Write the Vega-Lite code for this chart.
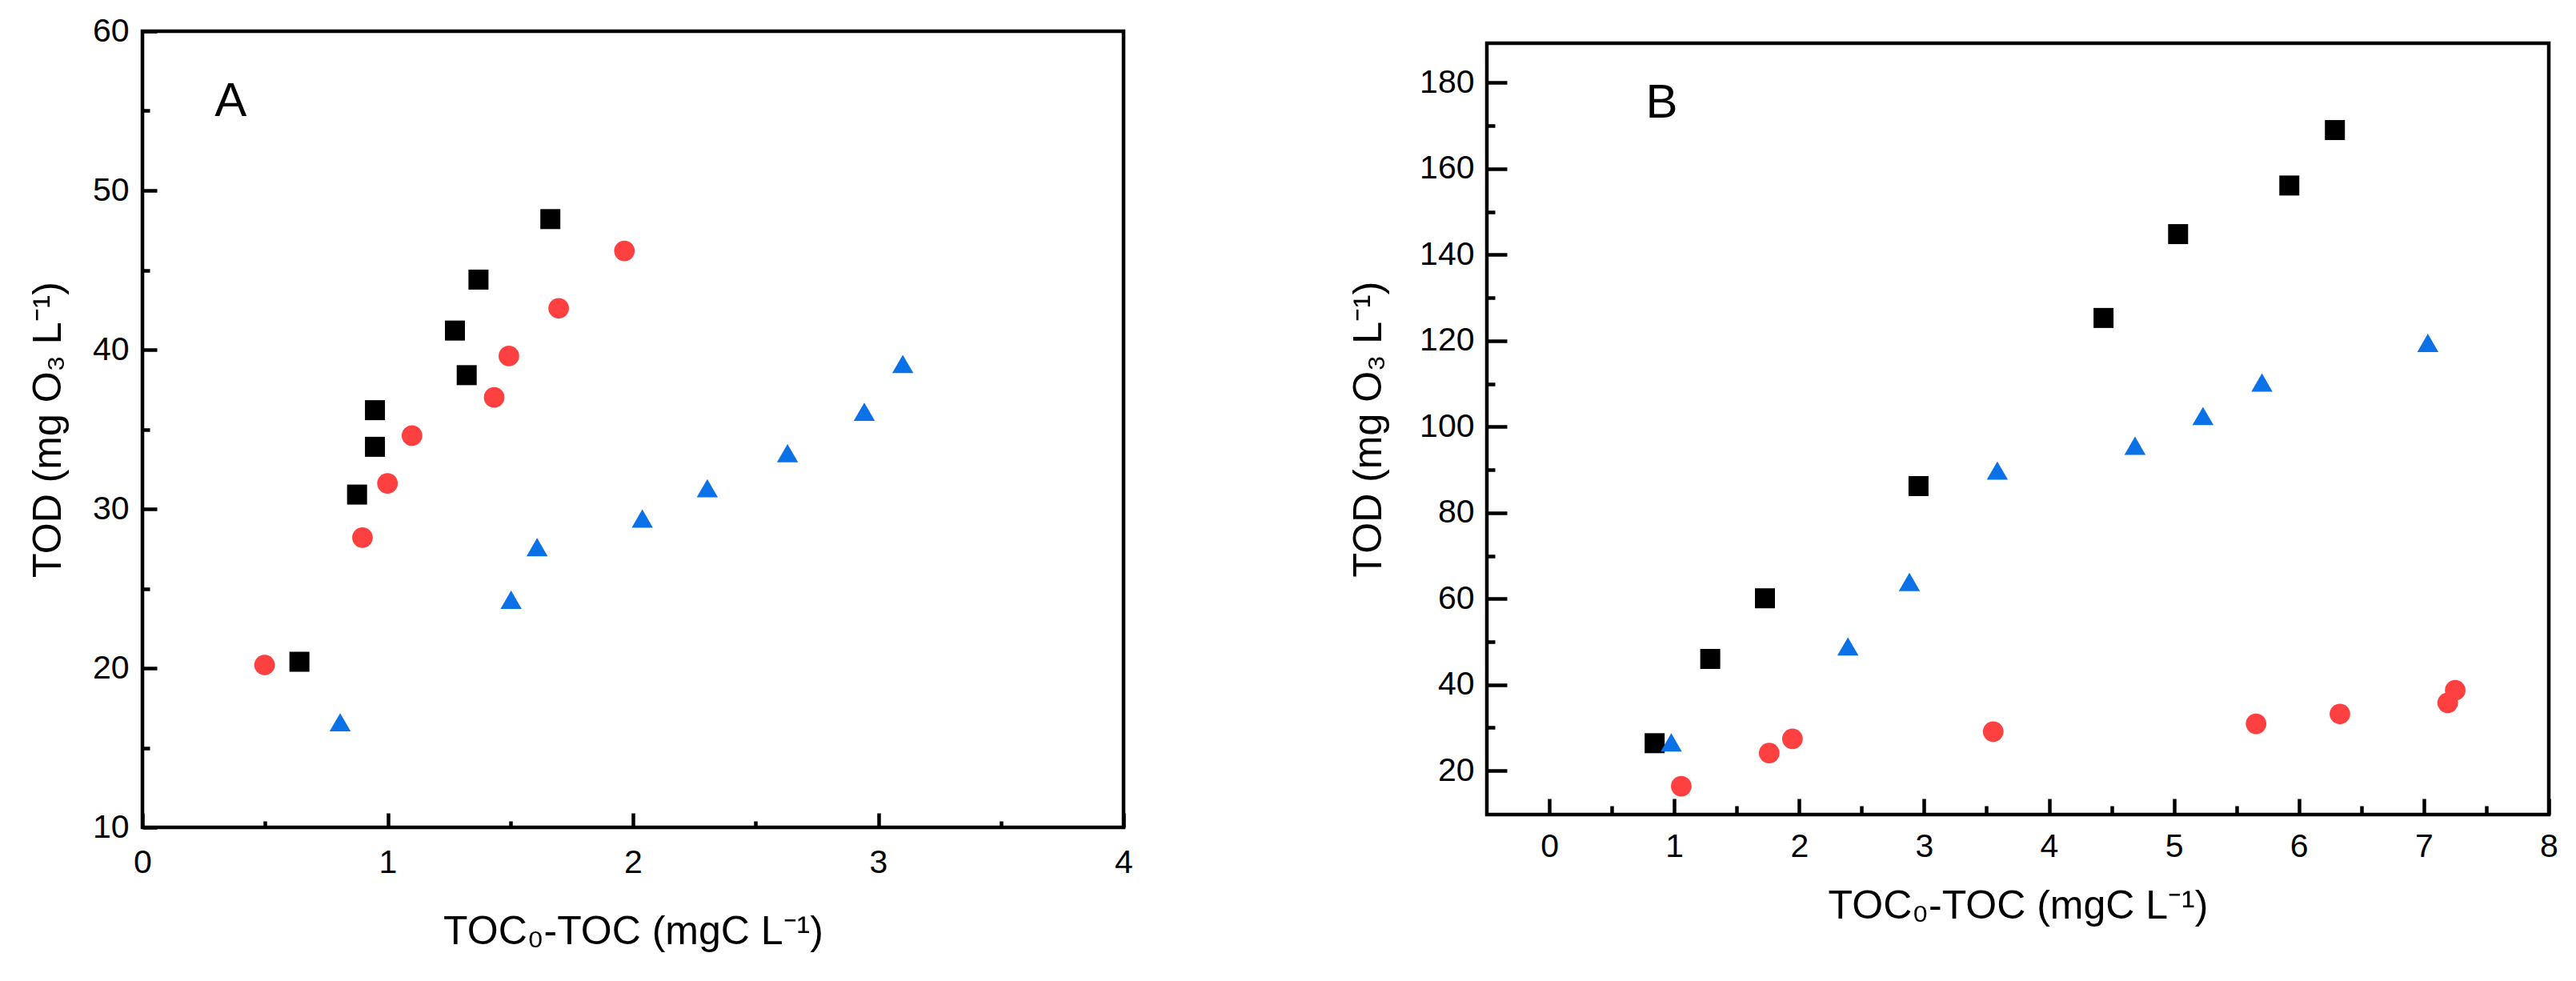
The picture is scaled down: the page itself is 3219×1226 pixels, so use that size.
{
  "$schema": "https://vega.github.io/schema/vega-lite/v6.json",
  "background": "white",
  "padding": {"left": 32, "top": 15, "right": 0, "bottom": 0},
  "autosize": {"type": "pad"},
  "spacing": 264,
  "config": {
    "view": {"stroke": "black", "strokeWidth": 4.5},
    "font": "Liberation Sans",
    "axis": {
      "domain": false, "grid": false,
      "labelFont": "Liberation Sans", "labelFontSize": 41, "labelColor": "black",
      "titleFont": "Liberation Sans", "titleFontSize": 50, "titleFontWeight": "normal", "titleColor": "black",
      "tickColor": "black", "tickWidth": 4.5,
      "labelFlush": false, "labelOverlap": false, "labelBound": false
    }
  },
  "datasets": {
    "panelA": [
      {"series": "Series 1", "x": 0.64, "y": 20.4},
      {"series": "Series 1", "x": 0.875, "y": 30.9},
      {"series": "Series 1", "x": 0.948, "y": 33.9},
      {"series": "Series 1", "x": 0.948, "y": 36.2},
      {"series": "Series 1", "x": 1.274, "y": 41.2},
      {"series": "Series 1", "x": 1.322, "y": 38.4},
      {"series": "Series 1", "x": 1.37, "y": 44.4},
      {"series": "Series 1", "x": 1.663, "y": 48.2},
      {"series": "Series 2", "x": 0.498, "y": 20.2},
      {"series": "Series 2", "x": 0.897, "y": 28.2},
      {"series": "Series 2", "x": 0.999, "y": 31.6},
      {"series": "Series 2", "x": 1.099, "y": 34.6},
      {"series": "Series 2", "x": 1.434, "y": 37.0},
      {"series": "Series 2", "x": 1.494, "y": 39.6},
      {"series": "Series 2", "x": 1.697, "y": 42.6},
      {"series": "Series 2", "x": 1.965, "y": 46.2},
      {"series": "Series 3", "x": 0.806, "y": 16.6},
      {"series": "Series 3", "x": 1.503, "y": 24.3},
      {"series": "Series 3", "x": 1.609, "y": 27.6},
      {"series": "Series 3", "x": 2.038, "y": 29.4},
      {"series": "Series 3", "x": 2.303, "y": 31.3},
      {"series": "Series 3", "x": 2.63, "y": 33.5},
      {"series": "Series 3", "x": 2.943, "y": 36.1},
      {"series": "Series 3", "x": 3.1, "y": 39.1}
    ],
    "panelB": [
      {"series": "Series 1", "x": 0.843, "y": 26.4},
      {"series": "Series 1", "x": 1.288, "y": 46.0},
      {"series": "Series 1", "x": 1.726, "y": 60.1},
      {"series": "Series 1", "x": 2.955, "y": 86.2},
      {"series": "Series 1", "x": 4.436, "y": 125.3},
      {"series": "Series 1", "x": 5.033, "y": 144.8},
      {"series": "Series 1", "x": 5.923, "y": 156.1},
      {"series": "Series 1", "x": 6.288, "y": 169.0},
      {"series": "Series 2", "x": 1.056, "y": 16.4},
      {"series": "Series 2", "x": 1.76, "y": 24.1},
      {"series": "Series 2", "x": 1.946, "y": 27.4},
      {"series": "Series 2", "x": 3.553, "y": 29.1},
      {"series": "Series 2", "x": 5.657, "y": 30.9},
      {"series": "Series 2", "x": 6.328, "y": 33.2},
      {"series": "Series 2", "x": 7.191, "y": 35.8},
      {"series": "Series 2", "x": 7.251, "y": 38.7},
      {"series": "Series 3", "x": 0.976, "y": 26.6},
      {"series": "Series 3", "x": 2.39, "y": 48.9},
      {"series": "Series 3", "x": 2.882, "y": 63.9},
      {"series": "Series 3", "x": 3.586, "y": 89.8},
      {"series": "Series 3", "x": 4.688, "y": 95.6},
      {"series": "Series 3", "x": 5.232, "y": 102.5},
      {"series": "Series 3", "x": 5.704, "y": 110.3},
      {"series": "Series 3", "x": 7.032, "y": 119.5}
    ],
    "labelA": [{"label": "A", "x": 0.36, "y": 55.6}],
    "labelB": [{"label": "B", "x": 0.9, "y": 175.2}],
    "spacer": [{"a": 1}]
  },
  "hconcat": [
    {
      "width": 1226,
      "height": 995,
      "layer": [
        {
          "data": {"name": "panelA"},
          "mark": {"type": "point", "filled": true, "opacity": 1},
          "encoding": {
            "x": {
              "field": "x", "type": "quantitative",
              "scale": {"domain": [0, 4], "nice": false, "zero": false},
              "axis": {
                "values": [0, 0.5, 1, 1.5, 2, 2.5, 3, 3.5, 4],
                "labelExpr": "datum.value % 1 === 0 ? format(datum.value, 'd') : ''",
                "offset": -18,
                "tickSize": 18,
                "tickDash": {"condition": {"test": "datum.value % 1 !== 0", "value": [0, 10, 8, 60]}, "value": [60, 1]},
                "labelPadding": 24,
                "title": "TOC₀-TOC (mgC L⁻¹)",
                "titlePadding": 63, "minExtent": 60, "maxExtent": 60
              }
            },
            "y": {
              "field": "y", "type": "quantitative",
              "scale": {"domain": [10, 60], "nice": false, "zero": false},
              "axis": {
                "values": [10, 15, 20, 25, 30, 35, 40, 45, 50, 55, 60],
                "labelExpr": "datum.value % 10 === 0 ? format(datum.value, 'd') : ''",
                "offset": -18,
                "tickSize": 18,
                "tickDash": {"condition": {"test": "datum.value % 10 !== 0", "value": [0, 9, 9, 60]}, "value": [60, 1]},
                "labelPadding": 17,
                "title": "TOD (mg O₃ L⁻¹)",
                "titlePadding": 51, "minExtent": 60, "maxExtent": 60
              }
            },
            "shape": {"field": "series", "type": "nominal", "scale": {"domain": ["Series 1", "Series 2", "Series 3"], "range": ["square", "circle", "triangle-up"]}, "legend": null},
            "color": {"field": "series", "type": "nominal", "scale": {"domain": ["Series 1", "Series 2", "Series 3"], "range": ["#000000", "#ff4040", "#0a72e6"]}, "legend": null},
            "size": {"field": "series", "type": "nominal", "scale": {"domain": ["Series 1", "Series 2", "Series 3"], "range": [625, 700, 1200]}, "legend": null}
          }
        },
        {
          "data": {"name": "labelA"},
          "mark": {"type": "text", "fontSize": 60, "font": "Liberation Sans", "align": "center", "baseline": "middle", "color": "black"},
          "encoding": {
            "x": {"field": "x", "type": "quantitative"},
            "y": {"field": "y", "type": "quantitative"},
            "text": {"field": "label"}
          }
        }
      ]
    },
    {
      "spacing": 8,
      "vconcat": [
        {
          "width": 1327,
          "height": 1,
          "data": {"name": "spacer"},
          "view": {"stroke": null},
          "mark": {"type": "point", "opacity": 0}
        },
        {
          "width": 1327,
          "height": 964,
          "layer": [
            {
              "data": {"name": "panelB"},
              "mark": {"type": "point", "filled": true, "opacity": 1},
              "encoding": {
                "x": {
                  "field": "x", "type": "quantitative",
                  "scale": {"domain": [-0.5, 8], "nice": false, "zero": false},
                  "axis": {
                    "values": [0, 0.5, 1, 1.5, 2, 2.5, 3, 3.5, 4, 4.5, 5, 5.5, 6, 6.5, 7, 7.5, 8],
                    "labelExpr": "datum.value % 1 === 0 ? format(datum.value, 'd') : ''",
                    "offset": -20,
                    "tickSize": 20,
                    "tickDash": {"condition": {"test": "datum.value % 1 !== 0", "value": [0, 9, 11, 60]}, "value": [60, 1]},
                    "labelPadding": 20,
                    "title": "TOC₀-TOC (mgC L⁻¹)",
                    "titlePadding": 49, "minExtent": 60, "maxExtent": 60
                  }
                },
                "y": {
                  "field": "y", "type": "quantitative",
                  "scale": {"domain": [9.8, 189.2], "nice": false, "zero": false},
                  "axis": {
                    "values": [20, 30, 40, 50, 60, 70, 80, 90, 100, 110, 120, 130, 140, 150, 160, 170, 180],
                    "labelExpr": "datum.value % 20 === 0 ? format(datum.value, 'd') : ''",
                    "offset": -25,
                    "tickSize": 25,
                    "tickDash": {"condition": {"test": "datum.value % 20 !== 0", "value": [0, 15, 10, 60]}, "value": [60, 1]},
                    "labelPadding": 16,
                    "title": "TOD (mg O₃ L⁻¹)",
                    "titlePadding": 58, "minExtent": 90, "maxExtent": 90
                  }
                },
                "shape": {"field": "series", "type": "nominal", "scale": {"domain": ["Series 1", "Series 2", "Series 3"], "range": ["square", "circle", "triangle-up"]}, "legend": null},
                "color": {"field": "series", "type": "nominal", "scale": {"domain": ["Series 1", "Series 2", "Series 3"], "range": ["#000000", "#ff4040", "#0a72e6"]}, "legend": null},
                "size": {"field": "series", "type": "nominal", "scale": {"domain": ["Series 1", "Series 2", "Series 3"], "range": [625, 700, 1200]}, "legend": null}
              }
            },
            {
              "data": {"name": "labelB"},
              "mark": {"type": "text", "fontSize": 60, "font": "Liberation Sans", "align": "center", "baseline": "middle", "color": "black"},
              "encoding": {
                "x": {"field": "x", "type": "quantitative"},
                "y": {"field": "y", "type": "quantitative"},
                "text": {"field": "label"}
              }
            }
          ]
        }
      ]
    }
  ]
}
